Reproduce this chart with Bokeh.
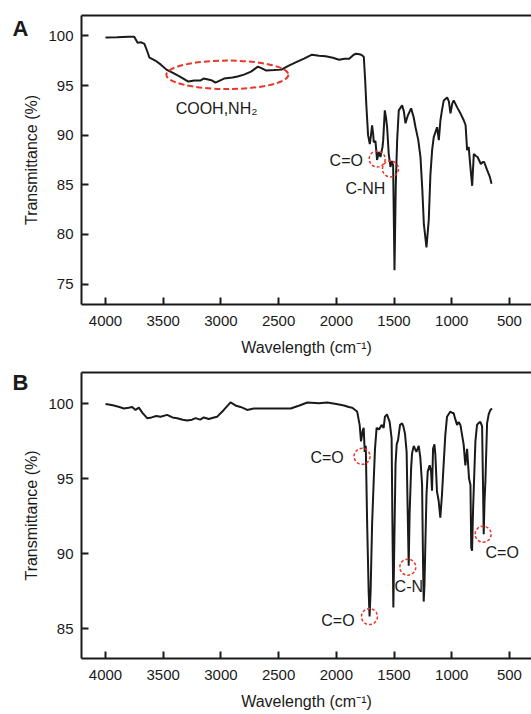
from bokeh.plotting import figure
from bokeh.models import Range1d, FixedTicker, LinearAxis
from bokeh.layouts import column
from bokeh.core.properties import value
from bokeh.embed import file_html
from bokeh.resources import INLINE

# ---------------- data ----------------
wn_a = [4000, 3900, 3800, 3751, 3722, 3690, 3663, 3640, 3619, 3560, 3520, 3472, 3420, 3355,
        3282, 3230, 3179, 3150, 3110, 3076, 3047, 3010, 2973, 2900, 2856, 2800, 2739, 2680,
        2640, 2607, 2540, 2475, 2420, 2357, 2280, 2211, 2150, 2093, 2030, 1976, 1930, 1888,
        1850, 1829, 1800, 1785, 1762, 1750, 1740, 1725, 1710, 1700, 1690, 1680, 1676, 1661,
        1647, 1632, 1618, 1600, 1594, 1580, 1570, 1560, 1546, 1531, 1520, 1508, 1496, 1485,
        1473, 1459, 1430, 1415, 1401, 1380, 1352, 1330, 1314, 1290, 1271, 1255, 1242, 1219,
        1199, 1185, 1170, 1156, 1127, 1112, 1098, 1085, 1069, 1040, 1025, 1011, 995, 983,
        953, 925, 896, 880, 867, 853, 840, 823, 809, 790, 777, 760, 748, 730, 719, 694, 670, 655]
tr_a = [99.83, 99.85, 99.9, 99.9, 99.3, 99.35, 99.2, 98.5, 97.8, 97.45, 97.1, 96.6, 96.3, 95.9,
        95.4, 95.5, 95.5, 95.7, 95.6, 95.5, 95.3, 95.5, 95.7, 95.8, 95.9, 96.1, 96.4, 96.9,
        96.7, 96.5, 96.55, 96.6, 96.95, 97.3, 97.7, 98.1, 98.0, 97.95, 97.8, 97.6, 97.7, 97.7,
        98.1, 98.2, 98.15, 98.1, 97.9, 95.5, 93.0, 90.0, 89.1, 90.0, 91.0, 90.0, 89.3, 89.4,
        87.5, 88.3, 87.8, 88.8, 89.5, 92.5, 91.8, 90.8, 88.1, 86.8, 87.4, 87.0, 76.4, 85.0,
        89.5, 92.5, 93.0, 92.4, 91.2, 92.0, 92.7, 91.8, 90.8, 89.5, 87.8, 84.5, 81.1, 78.7,
        81.5, 86.0, 88.5, 89.8, 90.8, 89.5, 91.5, 92.5, 93.5, 93.8, 93.4, 92.2, 93.2, 93.5,
        92.8, 92.2, 91.5, 91.0, 88.5, 88.8, 87.0, 84.9, 88.1, 87.9, 87.8, 87.4, 87.1, 87.3,
        87.3, 86.5, 85.8, 85.1]

wn_b = [4000, 3960, 3928, 3880, 3841, 3800, 3769, 3740, 3711, 3680, 3639, 3600, 3560, 3523,
        3466, 3420, 3379, 3330, 3292, 3250, 3220, 3180, 3148, 3105, 3060, 3032, 2975, 2940,
        2917, 2895, 2874, 2831, 2800, 2773, 2715, 2600, 2500, 2395, 2320, 2251, 2150, 2078,
        2000, 1934, 1892, 1862, 1820, 1798, 1786, 1772, 1763, 1754, 1745, 1733, 1720, 1712,
        1703, 1690, 1676, 1665, 1651, 1630, 1608, 1590, 1579, 1561, 1550, 1538, 1521, 1514,
        1506, 1497, 1487, 1477, 1465, 1448, 1430, 1419, 1405, 1391, 1381, 1373, 1365, 1352,
        1344, 1329, 1318, 1306, 1286, 1272, 1257, 1248, 1243, 1236, 1229, 1219, 1208, 1191,
        1179, 1171, 1162, 1150, 1142, 1128, 1113, 1099, 1085, 1070, 1056, 1041, 1012, 995,
        984, 970, 954, 940, 925, 897, 882, 867, 850, 838, 831, 824, 815, 804, 795, 781, 770,
        752, 737, 728, 723, 716, 708, 694, 680, 665, 651]
tr_b = [100.0, 99.95, 99.9, 99.8, 99.7, 99.75, 99.8, 99.6, 99.75, 99.4, 99.05, 99.1, 99.2, 99.15,
        99.27, 99.1, 99.05, 98.95, 98.9, 98.95, 99.05, 98.95, 99.1, 99.0, 99.1, 99.15, 99.6, 99.9,
        100.1, 100.0, 99.9, 99.8, 99.7, 99.6, 99.7, 99.7, 99.7, 99.7, 99.9, 100.1, 100.05, 100.1,
        100.0, 99.9, 99.8, 99.75, 99.5, 98.6, 97.5, 98.2, 98.4, 96.8, 97.2, 92.0, 87.5, 85.8,
        87.5, 92.0, 94.9, 97.0, 98.4, 98.3, 98.6, 98.4, 99.15, 99.3, 99.05, 98.8, 97.7, 92.0,
        86.4, 91.0, 96.0, 97.3, 97.6, 98.6, 98.7, 98.5, 98.0, 96.8, 92.5, 89.2, 92.7, 95.7,
        96.7, 97.2, 97.0, 96.8, 97.2, 96.4, 94.6, 89.0, 86.8, 88.0, 90.5, 93.9, 95.5, 95.9,
        95.5, 94.2, 97.0, 97.3, 96.6, 94.15, 93.5, 92.4, 93.9, 96.0, 97.9, 99.15, 99.5, 99.4,
        99.4, 99.0, 98.6, 98.8, 98.6, 97.3, 95.9, 97.0, 95.0, 94.6, 90.4, 90.2, 93.0, 95.5, 97.5,
        98.6, 98.7, 98.8, 98.5, 94.0, 91.3, 93.5, 94.9, 98.7, 99.3, 99.6, 99.7]

x_ticks = [4000, 3500, 3000, 2500, 2000, 1500, 1000, 500]
y_ticks_a = [75, 80, 85, 90, 95, 100]
y_ticks_b = [85, 90, 95, 100]

# band annotations
band_a_ellipse = dict(x=[2944], y=[96.08], w=[1057], h=[2.86])
mark_a_x = [1646, 1531]
mark_a_y = [87.6, 86.6]
text_a = ["COOH,NH\u2082", "C=O", "C-NH"]
text_a_x = [3038, 1914, 1748]
text_a_y = [92.67, 87.4, 84.6]

mark_b_x = [1777, 1713, 1381, 728]
mark_b_y = [96.5, 85.8, 89.1, 91.3]
text_b = ["C=O", "C=O", "C-N", "C=O"]
text_b_x = [2080, 1986, 1372, 563]
text_b_y = [96.4, 85.55, 87.8, 90.1]

# panel letters (placed at these transmittance levels, left of the axis)
letter_a, letter_a_y = "A", 100.75
letter_b, letter_b_y = "B", 101.45

FONT = "Liberation Sans"
INK = "#1a1a1a"
RED = "#e8372c"
X_START, X_END = 4208, 309


def make_panel(height, ytr, yticks, btop, bbot, letter, letter_y):
    p = figure(width=531, height=height, output_backend="svg", toolbar_location=None,
               x_range=Range1d(X_START, X_END), y_range=Range1d(*ytr),
               min_border_left=81, min_border_right=0, min_border_top=btop,
               min_border_bottom=bbot, outline_line_color=None)
    p.grid.grid_line_color = None
    for ax in (p.xaxis[0], p.yaxis[0]):
        ax.axis_line_width = 2
        ax.axis_line_color = INK
        ax.major_tick_line_width = 2
        ax.major_tick_line_color = INK
        ax.major_tick_in = 7
        ax.major_tick_out = 0
        ax.minor_tick_line_color = None
        ax.major_label_text_font = FONT
        ax.major_label_text_font_size = "15px"
        ax.major_label_text_color = INK
        ax.axis_label_text_font = FONT
        ax.axis_label_text_font_size = "16px"
        ax.axis_label_text_font_style = "normal"
        ax.axis_label_text_color = INK
    p.xaxis.ticker = FixedTicker(ticks=x_ticks)
    p.yaxis.ticker = FixedTicker(ticks=yticks)
    p.xaxis.axis_label = "Wavelength (cm\u207b\u00b9)"
    p.yaxis.axis_label = "Transmittance (%)"
    p.xaxis.major_label_standoff = 11
    p.xaxis.axis_label_standoff = 10
    p.yaxis.major_label_standoff = 8
    p.yaxis.axis_label_standoff = 5
    top = LinearAxis(ticker=FixedTicker(ticks=[]), axis_line_width=2, axis_line_color=INK,
                     major_tick_line_color=None, minor_tick_line_color=None)
    p.add_layout(top, "above")
    # outer left axis carrying only the panel letter
    lax = LinearAxis(ticker=FixedTicker(ticks=[letter_y]),
                     major_label_overrides={letter_y: letter},
                     axis_line_color=None, major_tick_line_color=None,
                     minor_tick_line_color=None, major_label_standoff=-14,
                     major_label_text_font=FONT, major_label_text_font_size="22px",
                     major_label_text_font_style="bold", major_label_text_color=INK)
    p.add_layout(lax, "left")
    return p


pA = make_panel(361, (72.95, 102.05), y_ticks_a, 15, 57, letter_a, letter_a_y)
pA.line(wn_a, tr_a, line_color=INK, line_width=2)
pA.ellipse(x=band_a_ellipse["x"], y=band_a_ellipse["y"], width=band_a_ellipse["w"],
           height=band_a_ellipse["h"], fill_color=None, line_color=RED, line_width=2,
           line_dash="6 3")
pA.scatter(mark_a_x, mark_a_y, marker="circle", size=16, fill_color=None, line_color=RED,
           line_width=1.5, line_dash="3 2")
pA.text(text_a_x, text_a_y, text=text_a, text_font=value(FONT), text_font_size="16px",
        text_color=INK, text_align="center", text_baseline="middle")

pB = make_panel(353, (83.0, 102.1), y_ticks_b, 11, 56, letter_b, letter_b_y)
pB.line(wn_b, tr_b, line_color=INK, line_width=2)
pB.scatter(mark_b_x, mark_b_y, marker="circle", size=16, fill_color=None, line_color=RED,
           line_width=1.5, line_dash="3 2")
pB.text(text_b_x, text_b_y, text=text_b, text_font=value(FONT), text_font_size="16px",
        text_color=INK, text_align="center", text_baseline="middle")

layout = column(pA, pB)
open("out.html", "w").write(file_html(layout, INLINE))
